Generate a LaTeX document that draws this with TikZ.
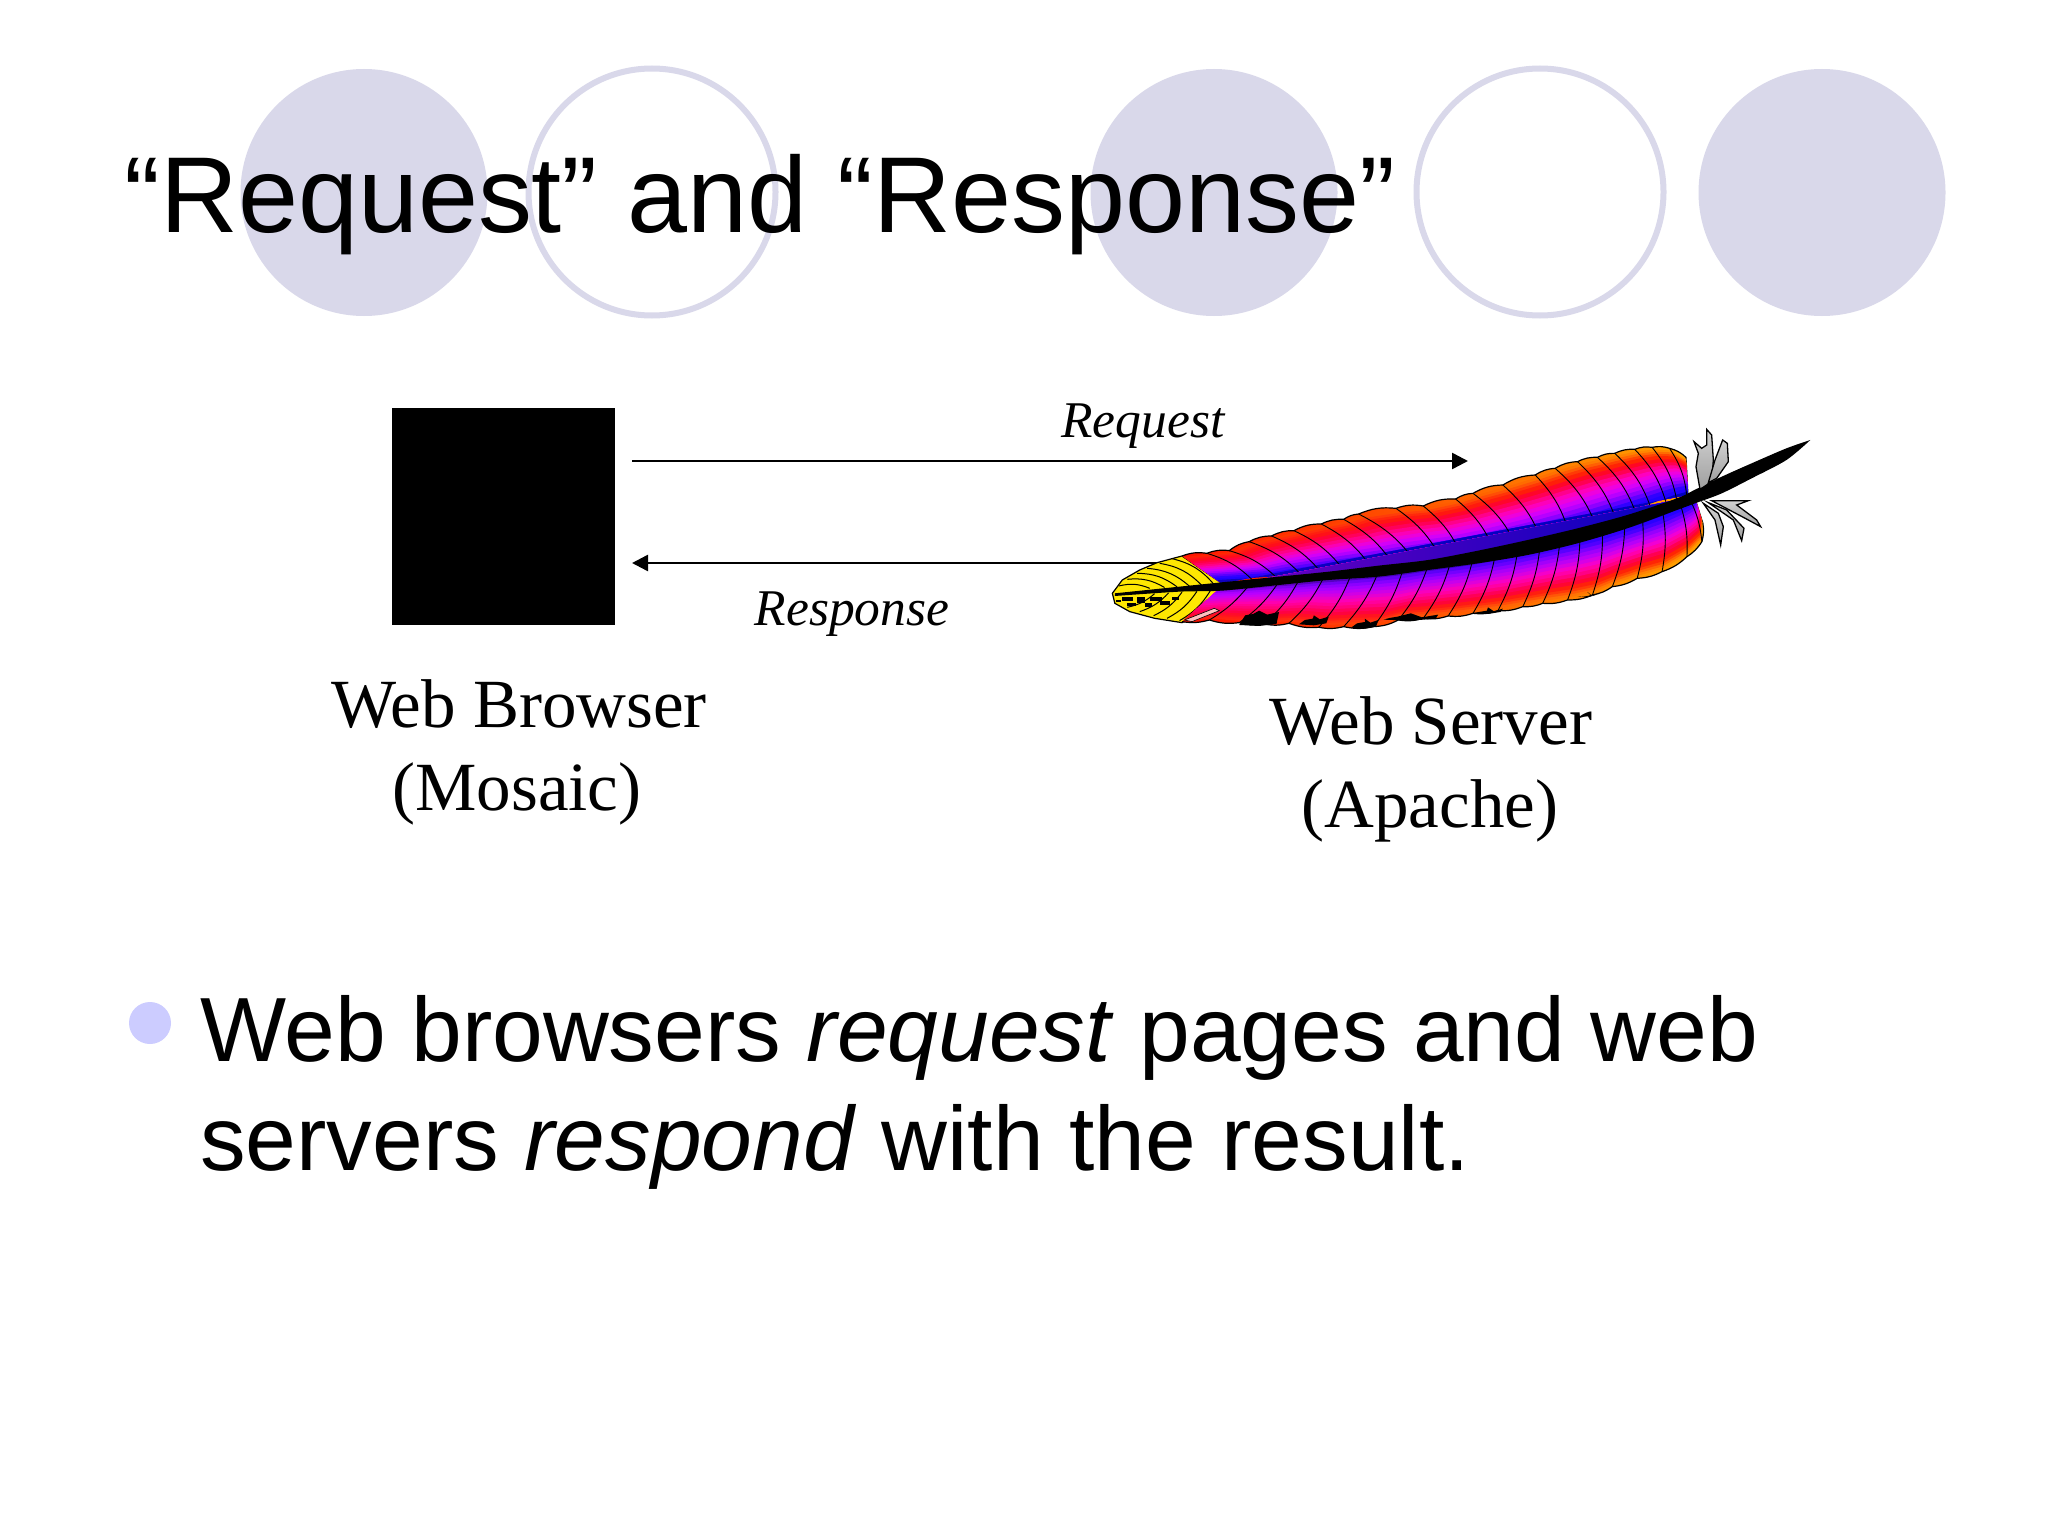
\documentclass[tikz,border=0pt]{standalone}
\usepackage{fontspec}
\setmainfont{Liberation Serif}
\newfontfamily\arialf{Liberation Sans}
\usetikzlibrary{arrows.meta,calc}
\definecolor{disc}{HTML}{D9D8EA}
\definecolor{bullet}{HTML}{CCCCFF}
\tikzset{
  solid disc/.style={circle,fill=disc,minimum size=247pt,inner sep=0pt},
  ring disc/.style={circle,draw=disc,line width=6pt,fill=none,minimum size=247pt,inner sep=0pt},
  title text/.style={anchor=base west,inner sep=0pt,font=\arialf\fontsize{107.9}{120}\selectfont},
  body text/.style={anchor=base west,inner sep=0pt,font=\arialf\fontsize{91.2}{110}\selectfont},
  label text/.style={anchor=base,inner sep=0pt,font=\fontsize{69}{80}\selectfont},
  flow text/.style={anchor=base,inner sep=0pt,font=\itshape\fontsize{51.5}{60}\selectfont},
  flow/.style={line width=2.5pt,-{Triangle[length=16pt,width=16pt]}},
  barb/.style={black,line width=0.9pt},
  tuft/.style={draw=black,line width=1.3pt,top color=gray!35,bottom color=gray!75},
}
\newcommand{\vanebands}[3]{%
  \foreach \s/\cl/\cr in {#3}{
    \definecolor{bandl}{HTML}{\cl}
    \definecolor{bandr}{HTML}{\cr}
    \shade[left color=bandl,right color=bandr] (#1r0) foreach \i in {0,...,#2}{ -- ($(#1r\i)!\s!(#1e\i)$) } -- (#1r#2) -- cycle;
  }
}
\begin{document}
\begin{tikzpicture}[x=1pt,y=-1pt]
\useasboundingbox (0,0) rectangle (2048,1536);
\fill[white] (0,0) rectangle (2048,1536);
% discs
\node[solid disc] (d1) at (364,192.5) {};
\node[ring disc]  (d2) at (652,192) {};
\node[solid disc] (d3) at (1214,192.5) {};
\node[ring disc]  (d4) at (1540,192) {};
\node[solid disc] (d5) at (1822,192.5) {};
% title
\node[title text] (title) at (124,232) {“Request” and “Response”};
% browser
\node[fill=black,minimum width=223pt,minimum height=217pt,inner sep=0pt] (browser) at (503.5,516.5) {};
% arrows
\coordinate (reqa) at (632,461);
\coordinate (reqb) at (1468,461);
\coordinate (resa) at (1200,563);
\coordinate (resb) at (632,563);
\draw[flow] (reqa) -- (reqb);
\draw[flow] (resa) -- (resb);
\node[flow text] (reqlabel) at (1143,437) {Request};
\node[flow text] (reslabel) at (852,625) {Response};
\node[label text] (wb) at (519,727) {Web Browser};
\node[label text] (wbm) at (517,810) {(Mosaic)};
\node[label text] (ws) at (1431,744) {Web Server};
\node[label text] (wsa) at (1430,827) {(Apache)};
% bullet and body
\node[circle,fill=bullet,minimum size=42pt,inner sep=0pt] (bul) at (150,1023) {};
\node[body text] (l1) at (200,1061) {Web browsers \emph{request} pages and web};
\node[body text] (l2) at (200,1170) {servers \emph{respond} with the result.};
% feather (coordinates in units of the crop)
\begin{scope}[shift={(1080,400)},x=0.4975pt,y=-0.3333pt]
\foreach \i/\ex/\ey/\rx/\ry in {0/205/468/285/550,1/255/460/350/545,2/300/452/400/540,3/340/425/450/533,4/385/408/490/527,5/430/392/535/520,6/485/372/590/512,7/530/358/635/505,8/560/342/680/498,9/635/325/730/488,10/690/318/770/478,11/755/297/835/460,12/790/280/880/447,13/850/255/930/430,14/915/225/985/410,15/955/205/1040/388,16/1000/185/1080/370,17/1040/172/1120/350,18/1075/160/1150/335,19/1115/148/1180/318,20/1150/142/1200/305,21/1185/145/1220/295,22/1218/172/1222/285}{
  \coordinate (ue\i) at (\ex,\ey);
  \coordinate (ur\i) at (\rx,\ry);
}
\foreach \i/\ex/\ey/\rx/\ry in {0/205/665/285/560,1/260/660/340/555,2/320/668/400/545,3/370/672/440/540,4/420/670/490/532,5/480/682/545/523,6/530/680/600/515,7/590/680/650/505,8/640/660/700/495,9/690/655/745/485,10/740/648/790/475,11/790/640/835/462,12/840/632/880/448,13/890/620/925/432,14/930/610/965/418,15/980/600/1005/403,16/1030/585/1050/385,17/1070/560/1095/365,18/1120/535/1130/348,19/1170/515/1170/325,20/1220/470/1205/305,21/1250/425/1225/295,22/1252/370/1235/290}{
  \coordinate (le\i) at (\ex,\ey);
  \coordinate (lr\i) at (\rx,\ry);
}
% yellow tip
\fill[yellow!90!orange,draw=black,line width=1.2pt] (205,468) -- (155,488) -- (120,510) -- (85,540) -- (65,580) -- (70,610) -- (100,635) -- (150,655) -- (205,668) -- (245,640) -- (285,575) -- (285,550) -- cycle;
\foreach \a/\b/\ye in {270/185/476,245/160/490,220/135/505,195/115/520,170/95/538,140/78/558}{
  \draw[line width=1pt] (\a,{565-(\a-140)*0.08}) to[bend right=18] (\b,\ye);
}
\foreach \a/\b/\ye in {262/200/662,235/175/655,205/148/647,178/120/635,150/95/622}{
  \draw[line width=1pt] (\a,{572+(262-\a)*0.08}) to[bend left=14] (\b,\ye);
}
\foreach \a/\b/\w/\h in {85/590/22/14,115/592/16/18,140/590/24/12,95/608/18/10,130/608/14/12,160/604/20/10,185/590/14/10,72/600/10/6}{
  \fill[black] (\a,\b) rectangle ++(\w,\h);
}
% upper vane
\shade[left color=red!85!orange,right color=orange!70!yellow] (ue0) foreach \i in {1,...,22}{ to[bend left=14] (ue\i) } -- (ur22) foreach \i in {21,...,0}{ -- (ur\i) } -- cycle;
\draw[black,line width=1.2pt] (ue0) foreach \i in {1,...,21}{ to[bend left=14] (ue\i) } to[bend left=14] (ue22) -- (ur22);
\vanebands{u}{22}{0.96/FF2000/FF9000,0.92/FF1810/FF7000,0.88/FF1015/FF4800,0.84/FF0820/FF2800,0.78/FF0040/FF0820,0.72/FF0060/FF0050,0.66/FF0085/FF0090,0.60/F800B0/FF00C0,0.54/E800D8/F000E0,0.48/D000F8/D800F8,0.42/B000FF/B800FF,0.36/8000FF/9000FF,0.30/5800FF/6000FF,0.24/3000FF/3000FF,0.18/2000FF/2000FF,0.12/1000C0/0000C0}
\foreach \i in {1,...,21}{ \draw[barb] (ue\i) to[bend left=14] (ur\i); }
% lower vane
\shade[left color=red!90!orange,right color=orange!70!yellow] (le0) foreach \i in {1,...,22}{ to[bend right=12] (le\i) } -- (lr22) foreach \i in {21,...,0}{ -- (lr\i) } -- cycle;
\draw[black,line width=1.2pt] (le0) foreach \i in {1,...,22}{ to[bend right=12] (le\i) } -- (lr22);
\vanebands{l}{22}{0.96/FF1C10/FF9000,0.92/FF1818/FF7000,0.88/FF1020/FF4800,0.84/FF0830/FF2800,0.78/FF0048/FF0828,0.72/FF0060/FF0050,0.66/FF0078/FF0088,0.60/FF0090/FF00B0,0.54/FF00A8/F000D8,0.48/F000C0/D000F0,0.42/E000D8/B000FF,0.36/D000F0/9000FF,0.30/C000FF/6800FF,0.24/B000FF/3800FF,0.18/9000F0/2000FF,0.12/7000C0/0000C0}
\foreach \i in {1,...,21}{ \draw[barb] (le\i) to[bend right=10] (lr\i); }
% black patches
\foreach \a/\b/\c/\d in {320/400/632/678,440/500/646/676,545/600/656/686,610/720/640/662,790/850/622/642,1000/1040/576/592}{
  \fill[black] (\a,\d-3) -- (\a+12,\c+14) -- (\a+28,\c+10) -- ({(\a+\b)/2},\c) -- ({\a+(\b-\a)*0.7},\c+12) -- (\b,\c+4) -- (\b-5,\d-6) -- ({(\a+\b)/2},\d) -- cycle;
}
\fill[pink,draw=black,line width=0.6pt] (210,660) -- (270,625) -- (280,632) -- (225,665) -- cycle;
% shaft
\fill[black] plot[smooth] coordinates {(70,580) (200,560) (285,547) (400,530) (500,515) (600,497) (700,480) (800,452) (900,420) (1000,385) (1100,345) (1200,295) (1235,270) (1290,230) (1350,190) (1420,145) (1468,120)} -- plot[smooth] coordinates {(1468,120) (1420,180) (1350,235) (1290,280) (1240,308) (1200,330) (1100,385) (1000,430) (900,465) (800,490) (700,510) (600,530) (500,540) (400,555) (285,572) (200,575) (70,588)} -- cycle;
\end{scope}
% tufts
\begin{scope}[shift={(1600,410)},x=0.3333pt,y=-0.3333pt]
\draw[tuft] (300,238) -- (288,170) -- (295,130) -- (282,95) -- (305,115) -- (320,105) -- (320,58) -- (335,75) -- (340,150) -- (335,215) -- cycle;
\draw[tuft] (325,218) -- (345,150) -- (368,90) -- (382,100) -- (385,155) -- (350,205) -- cycle;
\draw[tuft] (310,280) -- (345,330) -- (362,405) -- (370,350) -- (355,310) -- cycle;
\draw[tuft] (325,278) -- (400,330) -- (425,392) -- (432,355) -- (380,300) -- cycle;
\draw[tuft] (335,272) -- (445,272) -- (410,285) -- (470,330) -- (482,350) -- (430,322) -- cycle;
\end{scope}
\end{tikzpicture}
\end{document}
